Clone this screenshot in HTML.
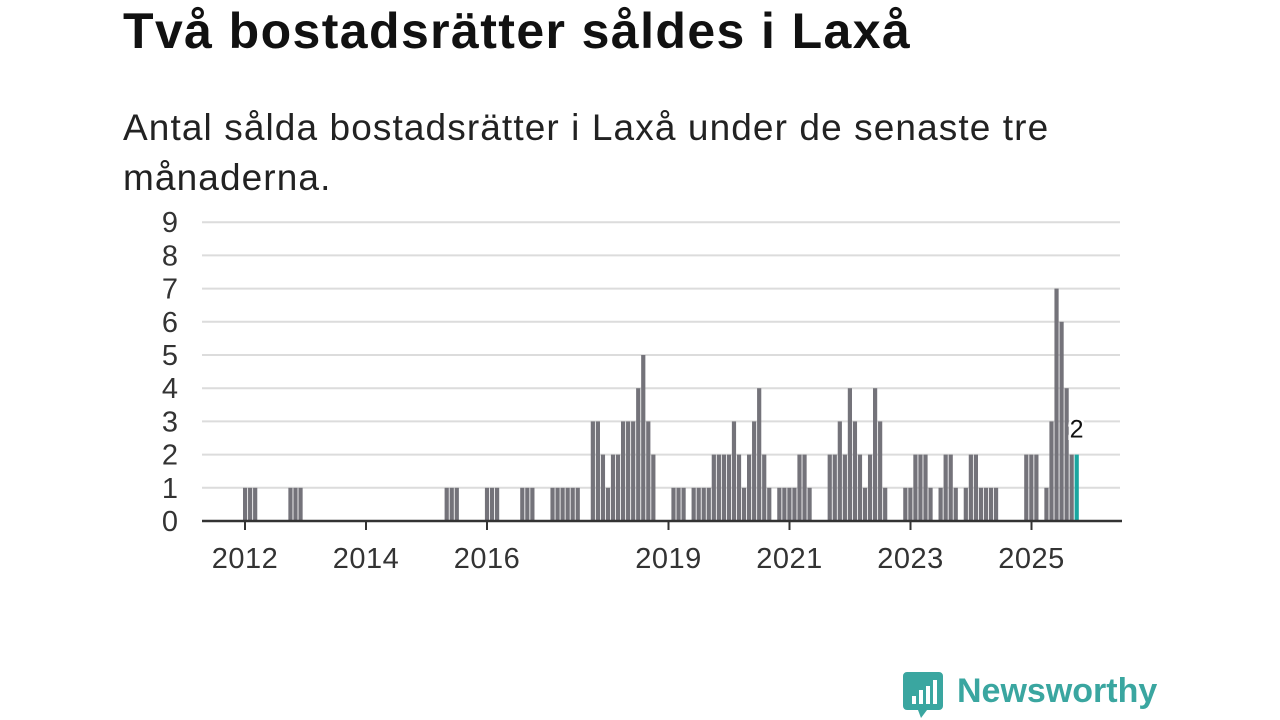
<!DOCTYPE html>
<html><head><meta charset="utf-8"><style>
body{margin:0;width:1280px;height:720px;background:#fff;font-family:"Liberation Sans",sans-serif;overflow:hidden;position:relative}
h1{position:absolute;left:123px;top:2px;margin:0;font-size:50px;font-weight:bold;color:#111;letter-spacing:1.4px}
p{position:absolute;left:123px;top:103px;margin:0;font-size:37px;line-height:50px;color:#222;width:1050px;letter-spacing:1.1px}
</style></head><body>
<h1>Två bostadsrätter såldes i Laxå</h1>
<p>Antal sålda bostadsrätter i Laxå under de senaste tre<br>månaderna.</p>
<svg id="chart" width="1280" height="720" style="position:absolute;left:0;top:0" xmlns="http://www.w3.org/2000/svg"></svg>
<script>
const yTicks=[0,1,2,3,4,5,6,7,8,9];
const yearLabels=[2012,2014,2016,2019,2021,2023,2025];
const nonZeroMonths=[0,1,2,9,10,11,40,41,42,48,49,50,55,56,57,61,62,63,64,65,66,69,70,71,72,73,74,75,76,77,78,79,80,81,85,86,87,89,90,91,92,93,94,95,96,97,98,99,100,101,102,103,104,106,107,108,109,110,111,112,116,117,118,119,120,121,122,123,124,125,126,127,131,132,133,134,135,136,138,139,140,141,143,144,145,146,147,148,149,155,156,157,159,160,161,162,163,164,165];
const nonZeroValues=[1,1,1,1,1,1,1,1,1,1,1,1,1,1,1,1,1,1,1,1,1,3,3,2,1,2,2,3,3,3,4,5,3,2,1,1,1,1,1,1,1,2,2,2,2,3,2,1,2,3,4,2,1,1,1,1,1,2,2,1,2,2,3,2,4,3,2,1,2,4,3,1,1,1,2,2,2,1,1,2,2,1,1,2,2,1,1,1,1,2,2,2,1,3,7,6,4,2,2];
const monthCount=166;
const values=new Array(monthCount).fill(0);
nonZeroMonths.forEach((m,k)=>values[m]=nonZeroValues[k]);

const svg=document.getElementById('chart');
const NS='http://www.w3.org/2000/svg';
const y=v=>521-v*33.2;
const xm=i=>243+i*5.04;
const xy=yr=>245+(yr-2012)*60.5;
function mk(t,a){const e=document.createElementNS(NS,t);for(const k in a)e.setAttribute(k,a[k]);svg.appendChild(e);return e;}
yTicks.forEach(v=>{
  if(v>0){const g=mk('line',{x1:202,x2:1120,y1:y(v),y2:y(v),stroke:'#dcdcdc','stroke-width':2});
  
  }
  const t=mk('text',{x:178,y:y(v)+10,'text-anchor':'end','font-size':29,fill:'#333','font-family':'Liberation Sans, sans-serif'});
  t.textContent=v;
  
  
});
values.forEach((v,i)=>{
  if(!v)return;
  const last=i===monthCount-1;
  const r=mk('rect',{x:xm(i),y:y(v),width:4.2,height:v*33.2,fill:last?'#1aa6a0':'#74737a'});
  
  
});
const ax=mk('line',{x1:202,x2:1122,y1:521,y2:521,stroke:'#333','stroke-width':2.5});


yearLabels.forEach(yr=>{
  const tk=mk('line',{x1:xy(yr),x2:xy(yr),y1:521,y2:530,stroke:'#333','stroke-width':2});
  
  
  const t=mk('text',{x:xy(yr),y:568,'text-anchor':'middle','font-size':29,fill:'#333','letter-spacing':'0.5','font-family':'Liberation Sans, sans-serif'});
  t.textContent=yr;
  
  
});
const lv=values[monthCount-1];
const lab=mk('text',{x:xm(monthCount-1)+2,y:y(lv)-17,'text-anchor':'middle','font-size':25,fill:'#111',stroke:'#fff','stroke-width':5,'paint-order':'stroke','font-family':'Liberation Sans, sans-serif'});
lab.textContent=lv;


</script>
<div style="position:absolute;left:903px;top:672px;display:flex;align-items:center">
<svg width="40" height="46" viewBox="0 0 40 46"><path d="M4 0h32a4 4 0 0 1 4 4v30a4 4 0 0 1-4 4H24l-6 8-3-8H4a4 4 0 0 1-4-4V4a4 4 0 0 1 4-4z" fill="#3aa6a0"/><rect x="9" y="24" width="4" height="8" fill="#fff"/><rect x="16" y="18" width="4" height="14" fill="#fff"/><rect x="23" y="14" width="4" height="18" fill="#fff"/><rect x="30" y="8" width="4" height="24" fill="#fff"/></svg>
<span style="margin-left:14px;font-size:34px;font-weight:bold;color:#3aa6a0;margin-top:-8px">Newsworthy</span>
</div>
</body></html>
